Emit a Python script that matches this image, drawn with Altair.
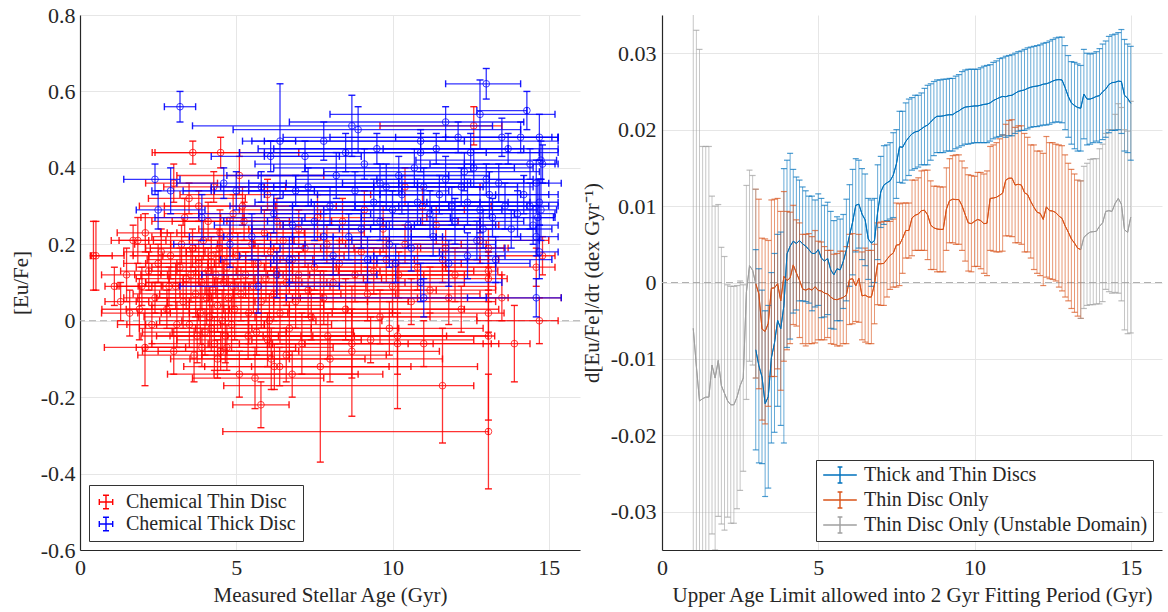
import altair as alt
import pandas as pd

FONT = "Liberation Serif"

# ---------------- Left panel: [Eu/Fe] vs measured stellar age ----------------
thin_age = [0.43, 0.51, 1.49, 1.30, 1.59, 1.90, 1.98, 2.08, 1.70, 1.85, 2.09, 2.50, 2.78, 2.40, 2.20, 2.60, 1.10, 2.30,
            3.00, 3.00, 3.06, 3.49, 3.61, 4.50, 4.28, 4.90, 4.48, 4.40, 4.50, 2.90, 3.20, 3.30, 3.40, 3.50, 3.60, 3.70,
            3.75, 3.80, 3.85, 3.90, 3.95, 4.00, 4.05, 4.10, 4.15, 4.20, 4.25, 4.30, 4.35, 4.40, 4.45, 4.55, 4.60, 4.65,
            4.70, 4.75, 4.80, 4.85, 4.90, 4.95, 2.85, 3.10, 3.25, 3.55, 3.65, 3.90, 4.10, 4.20, 4.55, 4.70, 3.35, 3.80,
            5.10, 5.10, 5.60, 5.79, 5.38, 6.06, 6.12, 6.22, 6.39, 6.79, 6.60, 5.05, 5.15, 5.25, 5.30, 5.40, 5.50, 5.55,
            5.65, 5.70, 5.80, 5.90, 5.95, 6.00, 6.10, 6.20, 6.30, 6.40, 6.50, 6.60, 6.70, 6.80, 6.90, 7.00, 7.10, 7.20,
            7.30, 7.40, 7.50, 7.60, 7.69, 7.80, 7.93, 7.90, 5.20, 6.30, 7.00, 6.00,
            8.70, 8.70, 9.30, 10.16, 10.16, 8.10, 8.30, 8.50, 8.80, 9.00, 9.20, 9.40, 9.60, 9.80, 10.00, 10.20, 10.40,
            10.40, 10.60, 10.80, 8.40, 9.10, 9.70, 8.00, 9.90, 10.96,
            11.60, 13.07, 13.07, 13.07, 13.07, 13.07, 13.90, 14.70, 14.80, 11.20, 11.80, 11.60, 11.70, 12.60, 12.20,
            11.40, 12.80, 13.07, 11.00, 12.00, 14.60, 13.50]
thin_eu = [0.17, 0.17, 0.12, 0.05, 0.02, 0.03, 0.09, -0.07, 0.21, 0.21, 0.23, 0.15, 0.03, 0.06, 0.13, 0.18, 0.09, -0.01,
           -0.08, 0.36, 0.09, 0.32, 0.44, 0.44, 0.35, 0.28, 0.23, -0.10, -0.08, 0.17, 0.14, 0.05, 0.11, -0.01, 0.19, 0.07,
           -0.04, 0.15, 0.02, 0.10, 0.21, -0.03, 0.06, 0.13, 0.01, 0.17, 0.08, -0.06, 0.12, 0.04, 0.19, 0.00, 0.10, -0.04,
           0.14, 0.06, 0.22, -0.01, 0.09, 0.03, 0.09, -0.01, 0.20, 0.12, -0.09, -0.07, 0.26, -0.02, 0.16, -0.07, 0.27, 0.30,
           0.38, -0.14, -0.15, -0.22, -0.04, 0.00, -0.10, -0.12, -0.12, -0.14, -0.09, 0.17, 0.07, 0.26, 0.12, 0.02, 0.20,
           0.09, -0.03, 0.15, 0.05, 0.23, 0.11, -0.05, 0.18, 0.07, 0.13, 0.02, 0.21, 0.10, -0.02, 0.16, 0.05, 0.12, -0.06,
           0.19, 0.08, 0.01, 0.14, 0.27, -0.12, 0.06, -0.04, 0.20, 0.30, 0.26, 0.24, 0.33,
           -0.08, -0.06, -0.05, -0.04, -0.06, 0.10, 0.15, 0.03, 0.12, 0.18, 0.07, 0.13, 0.01, 0.16, 0.09, 0.12, 0.20,
           0.35, 0.05, 0.14, 0.26, 0.29, 0.24, -0.10, -0.02, 0.30,
           -0.17, -0.29, -0.04, 0.02, 0.11, 0.13, -0.06, 0.00, 0.17, 0.08, 0.06, 0.16, 0.19, 0.51, 0.03, 0.25, 0.21, 0.19,
           -0.06, 0.12, 0.14, 0.06]
thin_age_lo = [0.1, 0.15, 0.8, 0.5, 0.9, 1.2, 0.8, 1.3, 0.7, 0.6, 0.9, 1.1, 1.3, 1.0, 0.9, 1.2, 0.3, 1.1,
               1.0, 0.9, 1.2, 1.3, 1.3, 2.1, 1.6, 2.2, 1.9, 1.5, 2.0, 1.2, 1.4, 1.5, 1.6, 1.4, 1.5, 2.0, 1.8, 1.7, 2.0,
               1.8, 1.6, 2.0, 2.2, 1.9, 2.1, 2.0, 2.3, 2.0, 2.4, 2.1, 2.2, 2.0, 2.5, 2.2, 2.4, 2.3, 2.5, 2.4, 2.6, 2.2,
               1.6, 1.6, 1.5, 1.8, 1.8, 2.1, 1.8, 2.3, 2.4, 2.6, 1.4, 1.9,
               2.0, 2.3, 2.0, 0.9, 2.5, 2.8, 2.6, 2.9, 2.4, 2.5, 2.7, 2.4, 2.6, 2.3, 2.5, 2.8, 2.6, 2.9, 2.7, 2.6, 3.0,
               2.8, 3.1, 2.9, 2.7, 3.0, 3.2, 2.9, 3.0, 3.3, 3.0, 3.1, 3.4, 3.2, 3.0, 3.5, 3.3, 3.6, 3.4, 3.1, 2.2, 3.7,
               3.2, 3.5, 2.5, 3.0, 3.2, 2.8,
               4.0, 3.6, 3.8, 4.3, 4.0, 3.8, 4.0, 3.9, 4.2, 4.1, 4.3, 4.4, 4.0, 4.5, 4.6, 4.2, 4.8, 4.5, 4.4, 4.9, 3.7,
               4.0, 4.3, 3.5, 4.4, 4.7,
               7.0, 8.5, 6.0, 5.0, 4.0, 4.8, 1.0, 2.0, 1.5, 4.5, 5.0, 5.2, 4.0, 3.0, 5.5, 5.0, 4.5, 4.3, 5.0, 5.5, 3.0, 2.7]
thin_age_hi = [0.6, 0.9, 1.1, 0.9, 1.3, 1.6, 1.2, 1.3, 0.5, 0.9, 0.7, 1.6, 2.0, 1.8, 1.5, 1.4, 1.5, 2.2,
               1.5, 1.4, 2.0, 1.8, 1.5, 2.5, 2.3, 2.8, 2.7, 2.3, 2.5, 2.0, 2.5, 2.3, 2.2, 2.4, 2.6, 2.5, 2.6, 3.0, 2.8,
               3.2, 2.9, 2.6, 3.0, 2.7, 3.3, 2.8, 3.1, 2.9, 3.0, 3.4, 2.7, 3.0, 3.3, 2.8, 3.5, 3.0, 2.9, 3.2, 3.1, 3.6,
               2.4, 2.8, 2.3, 2.8, 2.5, 3.0, 2.6, 3.2, 2.9, 3.4, 1.9, 2.4,
               2.7, 3.8, 2.2, 0.9, 3.4, 3.6, 3.0, 6.5, 3.5, 2.9, 3.2, 3.4, 3.2, 2.8, 3.5, 3.3, 3.0, 3.6, 3.1, 3.8, 3.4,
               3.2, 3.7, 3.0, 3.5, 3.9, 3.3, 3.6, 3.4, 3.8, 3.5, 3.9, 3.6, 4.0, 3.4, 3.7, 4.1, 3.8, 4.2, 3.5, 2.9, 4.0,
               3.8, 4.3, 3.0, 3.4, 3.6, 3.3,
               2.8, 2.6, 3.3, 2.9, 3.0, 4.2, 3.9, 3.8, 3.5, 3.4, 3.6, 3.2, 3.1, 3.0, 3.3, 2.9, 2.6, 2.4, 2.7, 2.5, 3.7,
               3.2, 3.1, 3.6, 3.0, 2.2,
               1.0, 0.0, 0.2, 0.5, 0.6, 0.3, 0.5, 0.6, 0.4, 2.1, 1.9, 1.8, 2.0, 0.9, 1.2, 2.0, 2.2, 0.5, 2.4, 1.5, 0.6, 1.9]
thin_eu_err = [0.09, 0.09, 0.07, 0.05, 0.06, 0.08, 0.05, 0.10, 0.04, 0.06, 0.05, 0.05, 0.05, 0.04, 0.05, 0.06, 0.05, 0.05,
               0.06, 0.05, 0.06, 0.04, 0.03, 0.04, 0.04, 0.05, 0.06, 0.05, 0.05, 0.06, 0.05, 0.07, 0.08, 0.06, 0.05,
               0.06, 0.07, 0.06, 0.08, 0.07, 0.05, 0.06, 0.07, 0.06, 0.08, 0.05, 0.06, 0.07, 0.06, 0.07, 0.05, 0.08,
               0.06, 0.07, 0.05, 0.06, 0.05, 0.07, 0.06, 0.08, 0.05, 0.06, 0.05, 0.07, 0.07, 0.05, 0.05, 0.06, 0.06,
               0.06, 0.05, 0.04,
               0.05, 0.06, 0.08, 0.06, 0.06, 0.07, 0.08, 0.06, 0.05, 0.06, 0.07, 0.06, 0.07, 0.05, 0.06, 0.08, 0.06,
               0.07, 0.06, 0.05, 0.07, 0.06, 0.06, 0.07, 0.05, 0.07, 0.06, 0.08, 0.05, 0.06, 0.07, 0.06, 0.07, 0.06,
               0.08, 0.05, 0.07, 0.06, 0.06, 0.06, 0.25, 0.07, 0.06, 0.05, 0.05, 0.06, 0.05, 0.04,
               0.17, 0.09, 0.06, 0.19, 0.08, 0.07, 0.06, 0.08, 0.07, 0.06, 0.07, 0.06, 0.07, 0.06, 0.07, 0.06, 0.05,
               0.05, 0.06, 0.06, 0.06, 0.05, 0.06, 0.06, 0.07, 0.05,
               0.15, 0.15, 0.22, 0.05, 0.06, 0.05, 0.10, 0.06, 0.05, 0.06, 0.07, 0.06, 0.05, 0.05, 0.06, 0.05, 0.06,
               0.05, 0.06, 0.07, 0.05, 0.06]

thick_age = [3.20, 2.40, 2.50, 2.90, 6.40, 6.10, 7.20, 13.00, 14.30, 12.80, 11.70, 8.70, 8.90, 12.10, 13.50, 14.10,
             14.70, 10.90, 12.50, 9.10, 14.40, 14.80, 10.20, 13.00, 4.60, 5.00, 3.90, 6.20, 8.60, 9.20, 10.90, 12.40,
             14.60, 5.70, 6.70, 7.30, 8.00, 8.20, 8.80, 9.40, 9.60, 9.80, 10.00, 10.30, 10.50, 10.70, 10.80, 11.00,
             11.20, 11.40, 11.50, 11.70, 11.90, 12.00, 12.20, 12.40, 12.60, 12.80, 12.90, 13.10, 13.20, 13.40, 13.60,
             13.80, 14.00, 14.20, 14.40, 14.50, 14.60, 14.60, 14.70, 14.70, 14.75, 14.75, 14.65, 7.50, 7.80, 8.10,
             9.00, 9.90, 10.10, 10.60, 11.30, 11.80, 12.70, 13.30, 6.80, 5.50, 4.80, 6.90, 8.50, 9.50, 10.90, 7.80,
             5.80, 6.30, 11.00, 13.70, 12.30, 9.60]
thick_eu = [0.56, 0.37, 0.29, 0.34, 0.47, 0.43, 0.43, 0.62, 0.55, 0.54, 0.52, 0.51, 0.50, 0.48, 0.48, 0.48, 0.48,
            0.44, 0.44, 0.41, 0.41, 0.41, 0.38, 0.37, 0.36, 0.34, 0.27, 0.28, 0.22, 0.16, 0.10, 0.17, 0.06, 0.09,
            0.16, 0.35, 0.30, 0.38, 0.34, 0.31, 0.26, 0.35, 0.29, 0.33, 0.25, 0.40, 0.31, 0.35, 0.28, 0.45, 0.33,
            0.37, 0.30, 0.26, 0.35, 0.31, 0.40, 0.29, 0.24, 0.33, 0.27, 0.36, 0.30, 0.24, 0.28, 0.33, 0.30, 0.25,
            0.36, 0.22, 0.31, 0.18, 0.29, 0.42, 0.27, 0.26, 0.22, 0.17, 0.24, 0.20, 0.15, 0.19, 0.22, 0.15, 0.21,
            0.16, 0.25, 0.22, 0.20, 0.34, 0.44, 0.45, 0.47, 0.47, 0.35, 0.12, 0.06, 0.45, 0.39, 0.36]
thick_age_lo = [0.5, 1.0, 0.7, 0.6, 0.9, 1.9, 1.3, 1.3, 1.6, 4.8, 5.0, 5.1, 4.0, 5.6, 5.5, 4.0, 3.0, 5.0, 4.0, 3.5,
                3.2, 2.5, 4.5, 3.5, 1.5, 1.7, 1.5, 2.4, 2.6, 3.0, 4.2, 3.0, 2.2, 2.5, 2.2, 2.8, 3.2, 3.5, 3.4, 3.8,
                3.6, 4.0, 4.2, 4.4, 4.0, 4.5, 4.6, 4.8, 5.0, 5.2, 5.0, 4.8, 5.1, 4.9, 5.3, 5.0, 5.4, 5.0, 4.6, 5.5,
                4.2, 5.0, 4.8, 4.5, 4.0, 4.6, 4.2, 3.8, 4.4, 4.0, 3.6, 3.2, 3.5, 4.0, 2.8, 2.9, 3.2, 3.0, 3.5, 3.8,
                4.0, 4.2, 4.5, 4.3, 4.0, 3.8, 2.5, 2.0, 1.8, 2.6, 3.4, 3.8, 5.0, 2.6, 1.6, 2.4, 4.4, 4.0, 4.5, 4.2]
thick_age_hi = [0.5, 0.8, 1.5, 1.3, 0.5, 2.2, 1.8, 1.1, 0.0, 2.4, 2.5, 4.5, 5.2, 3.0, 1.8, 1.2, 0.6, 3.8, 2.8, 3.5,
                0.9, 0.4, 2.9, 1.5, 2.0, 2.5, 3.3, 3.1, 3.0, 3.2, 2.6, 1.2, 0.8, 2.6, 2.6, 3.5, 3.8, 3.6, 3.0, 3.4,
                3.2, 3.1, 3.5, 3.0, 2.8, 3.2, 2.9, 3.0, 2.7, 2.8, 2.6, 2.5, 2.4, 2.2, 2.3, 2.0, 1.9, 1.8, 1.7, 1.9,
                2.0, 1.6, 1.4, 1.3, 1.2, 1.1, 0.9, 0.8, 0.8, 0.7, 0.6, 0.6, 0.5, 0.5, 0.5, 3.4, 3.6, 3.5, 3.3, 3.4,
                3.2, 3.0, 2.8, 2.6, 2.0, 1.8, 3.0, 2.6, 2.4, 3.4, 4.5, 4.2, 4.4, 4.5, 3.6, 3.2, 2.0, 1.6, 2.4, 2.9]
thick_eu_err = [0.04, 0.04, 0.05, 0.06, 0.15, 0.04, 0.04, 0.04, 0.05, 0.09, 0.04, 0.08, 0.06, 0.04, 0.05, 0.04,
                0.06, 0.05, 0.05, 0.04, 0.04, 0.05, 0.05, 0.04, 0.04, 0.05, 0.06, 0.05, 0.06, 0.06, 0.05, 0.06,
                0.05, 0.07, 0.06, 0.05, 0.05, 0.06, 0.05, 0.06, 0.05, 0.06, 0.05, 0.05, 0.06, 0.05, 0.06, 0.05,
                0.06, 0.04, 0.05, 0.06, 0.05, 0.06, 0.05, 0.06, 0.05, 0.06, 0.05, 0.06, 0.05, 0.05, 0.06, 0.05,
                0.06, 0.05, 0.06, 0.05, 0.06, 0.05, 0.06, 0.07, 0.08, 0.05, 0.10, 0.05, 0.06, 0.05, 0.05, 0.06,
                0.05, 0.06, 0.05, 0.06, 0.05, 0.06, 0.05, 0.06, 0.06, 0.04, 0.05, 0.04, 0.03, 0.05, 0.04, 0.06,
                0.05, 0.04, 0.05, 0.05]

# ---------------- Right panel: fitted gradient vs upper age limit ----------------
blue_hi = [0.0043, 0.0018, -0.0010, -0.0037, -0.0030, 0.0013, 0.0038, 0.0063, 0.0066, 0.0149,
           0.0160, 0.0169, 0.0148, 0.0138, 0.0134, 0.0125, 0.0120, 0.0113, 0.0113, 0.0108,
           0.0116, 0.0110, 0.0101, 0.0105, 0.0093, 0.0081, 0.0086, 0.0083, 0.0089, 0.0109,
           0.0128, 0.0148, 0.0162, 0.0160, 0.0149, 0.0142, 0.0110, 0.0108, 0.0110, 0.0154,
           0.0165, 0.0179, 0.0180, 0.0183, 0.0196, 0.0200, 0.0224, 0.0224, 0.0235, 0.0240,
           0.0242, 0.0245, 0.0245, 0.0248, 0.0254, 0.0258, 0.0260, 0.0263, 0.0265, 0.0265,
           0.0266, 0.0266, 0.0267, 0.0267, 0.0270, 0.0272, 0.0276, 0.0278, 0.0279, 0.0279,
           0.0279, 0.0279, 0.0281, 0.0283, 0.0284, 0.0285, 0.0288, 0.0290, 0.0293, 0.0294,
           0.0296, 0.0297, 0.0298, 0.0300, 0.0302, 0.0303, 0.0305, 0.0307, 0.0308, 0.0309,
           0.0310, 0.0311, 0.0313, 0.0314, 0.0316, 0.0318, 0.0320, 0.0321, 0.0321, 0.0310,
           0.0297, 0.0289, 0.0288, 0.0286, 0.0284, 0.0305, 0.0300, 0.0299, 0.0300, 0.0302,
           0.0306, 0.0312, 0.0316, 0.0322, 0.0324, 0.0325, 0.0327, 0.0331, 0.0318, 0.0312,
           0.0309]
blue_lo = [-0.0219, -0.0236, -0.0237, -0.0280, -0.0269, -0.0210, -0.0196, -0.0162, -0.0187, -0.0210,
           -0.0085, -0.0074, -0.0040, -0.0036, -0.0024, -0.0024, -0.0025, -0.0027, -0.0037, -0.0032,
           -0.0030, -0.0046, -0.0045, -0.0042, -0.0060, -0.0061, -0.0050, -0.0050, -0.0034, -0.0024,
           -0.0005, 0.0010, 0.0040, 0.0045, 0.0030, 0.0022, 0.0004, -0.0005, 0.0000, 0.0030,
           0.0072, 0.0076, 0.0081, 0.0083, 0.0085, 0.0110, 0.0131, 0.0130, 0.0134, 0.0140,
           0.0147, 0.0149, 0.0151, 0.0154, 0.0154, 0.0154, 0.0160, 0.0166, 0.0170, 0.0170,
           0.0170, 0.0172, 0.0172, 0.0172, 0.0175, 0.0177, 0.0179, 0.0181, 0.0181, 0.0182,
           0.0183, 0.0183, 0.0183, 0.0183, 0.0183, 0.0185, 0.0188, 0.0190, 0.0191, 0.0193,
           0.0190, 0.0192, 0.0192, 0.0195, 0.0198, 0.0199, 0.0199, 0.0201, 0.0203, 0.0204,
           0.0204, 0.0205, 0.0206, 0.0206, 0.0207, 0.0209, 0.0210, 0.0210, 0.0209, 0.0200,
           0.0190, 0.0181, 0.0175, 0.0172, 0.0172, 0.0188, 0.0180, 0.0181, 0.0183, 0.0185,
           0.0183, 0.0187, 0.0190, 0.0196, 0.0199, 0.0199, 0.0200, 0.0195, 0.0172, 0.0170,
           0.0160]
orange_hi = [0.0122, 0.0109, 0.0058, 0.0057, 0.0055, 0.0108, 0.0109, 0.0110, 0.0093, 0.0119,
             0.0093, 0.0092, 0.0101, 0.0082, 0.0078, 0.0063, 0.0063, 0.0064, 0.0060, 0.0068,
             0.0054, 0.0053, 0.0047, 0.0042, 0.0042, 0.0037, 0.0038, 0.0041, 0.0041, 0.0047,
             0.0063, 0.0064, 0.0042, 0.0063, 0.0040, 0.0045, 0.0042, 0.0042, 0.0050, 0.0078,
             0.0079, 0.0080, 0.0080, 0.0080, 0.0083, 0.0104, 0.0103, 0.0104, 0.0104, 0.0104,
             0.0134, 0.0134, 0.0137, 0.0146, 0.0147, 0.0147, 0.0133, 0.0126, 0.0126, 0.0125,
             0.0125, 0.0150, 0.0162, 0.0166, 0.0167, 0.0167, 0.0159, 0.0150, 0.0141, 0.0140,
             0.0139, 0.0144, 0.0144, 0.0142, 0.0146, 0.0178, 0.0180, 0.0183, 0.0188, 0.0193,
             0.0207, 0.0212, 0.0213, 0.0203, 0.0205, 0.0205, 0.0195, 0.0190, 0.0180, 0.0180,
             0.0172, 0.0172, 0.0169, 0.0191, 0.0183, 0.0183, 0.0181, 0.0180, 0.0179, 0.0167,
             0.0156, 0.0148, 0.0142, 0.0134, 0.0133]
orange_lo = [-0.0125, -0.0139, -0.0180, -0.0185, -0.0162, -0.0123, -0.0123, -0.0113, -0.0141, -0.0103,
             -0.0088, -0.0080, -0.0055, -0.0057, -0.0072, -0.0080, -0.0083, -0.0080, -0.0080, -0.0079,
             -0.0075, -0.0075, -0.0075, -0.0072, -0.0080, -0.0081, -0.0083, -0.0083, -0.0080, -0.0080,
             -0.0055, -0.0054, -0.0051, -0.0052, -0.0075, -0.0078, -0.0080, -0.0080, -0.0054, -0.0029,
             -0.0030, -0.0030, -0.0019, -0.0009, -0.0006, -0.0006, -0.0004, 0.0012, 0.0032, 0.0032,
             0.0035, 0.0042, 0.0042, 0.0042, 0.0042, 0.0030, 0.0017, 0.0017, 0.0014, 0.0014,
             0.0014, 0.0042, 0.0052, 0.0052, 0.0050, 0.0050, 0.0042, 0.0028, 0.0015, 0.0014,
             0.0021, 0.0021, 0.0018, 0.0012, 0.0009, 0.0042, 0.0041, 0.0040, 0.0040, 0.0041,
             0.0061, 0.0061, 0.0060, 0.0052, 0.0052, 0.0050, 0.0040, 0.0040, 0.0032, 0.0017,
             0.0012, 0.0009, -0.0004, 0.0007, 0.0005, 0.0004, 0.0002, -0.0006, -0.0011, -0.0019,
             -0.0024, -0.0034, -0.0039, -0.0044, -0.0047]
grey_early_hi = [0.0420, 0.0330, 0.0305, 0.0178, 0.0178, 0.0178, 0.0113, 0.0100, 0.0102, 0.0046,
                 0.0034, -0.0003, -0.0005, -0.0005, -0.0004, 0.0002, -0.0003, 0.0127, 0.0147, 0.0140, 0.0122]
grey_early_lo = [-0.0540, -0.0550, -0.0615, -0.0482, -0.0478, -0.0478, -0.0329, -0.0350, -0.0306, -0.0316,
                 -0.0324, -0.0307, -0.0315, -0.0315, -0.0296, -0.0272, -0.0247, -0.0153, -0.0103, -0.0108, -0.0125]
grey_late_hi = [0.0133, 0.0152, 0.0156, 0.0161, 0.0162, 0.0162, 0.0175, 0.0181, 0.0195, 0.0200, 0.0200,
                0.0220, 0.0234, 0.0229, 0.0200, 0.0198, 0.0237]
grey_late_lo = [-0.0047, -0.0034, -0.0030, -0.0029, -0.0029, -0.0028, -0.0028, -0.0025, -0.0009, -0.0012,
                -0.0014, -0.0013, -0.0014, -0.0024, -0.0062, -0.0067, -0.0066]

S_BLUE = "Thick and Thin Discs"
S_ORANGE = "Thin Disc Only"
S_GREY = "Thin Disc Only (Unstable Domain)"


def grid(start, n):
    # the fits are sampled every 0.1 Gyr
    return [round(start + 0.1 * i, 1) for i in range(n)]


def fit_frame(start, hi, lo, series, seg):
    return pd.DataFrame({"limit": grid(start, len(hi)), "hi": hi, "lo": lo, "series": series, "seg": seg})


fit_df = pd.concat([
    fit_frame(3.0, blue_hi, blue_lo, S_BLUE, "b"),
    fit_frame(3.0, orange_hi, orange_lo, S_ORANGE, "o"),
    fit_frame(1.0, grey_early_hi, grey_early_lo, S_GREY, "g1"),
    fit_frame(13.4, grey_late_hi, grey_late_lo, S_GREY, "g2"),
], ignore_index=True)

thin = pd.DataFrame({"age": thin_age, "eu": thin_eu, "lo": thin_age_lo, "hi": thin_age_hi, "err": thin_eu_err})
thin["disc"] = "Chemical Thin Disc"
thick = pd.DataFrame({"age": thick_age, "eu": thick_eu, "lo": thick_age_lo, "hi": thick_age_hi, "err": thick_eu_err})
thick["disc"] = "Chemical Thick Disc"

# ---------------- shared styling ----------------
XL = alt.Scale(domain=[0, 16], nice=False, zero=False)
YL = alt.Scale(domain=[-0.6, 0.8], nice=False, zero=False)
XR = alt.Scale(domain=[0, 16], nice=False, zero=False)
YR = alt.Scale(domain=[-0.035, 0.035], nice=False, zero=False)

ax_xl = alt.Axis(title="Measured Stellar Age (Gyr)", values=[0, 5, 10, 15], format="d",
                 labelPadding=7, titlePadding=6)
ax_yl = alt.Axis(title="[Eu/Fe]", values=[-0.6, -0.4, -0.2, 0, 0.2, 0.4, 0.6, 0.8],
                 labelExpr="datum.value == 0 ? '0' : (datum.value < 0 ? '-' + format(-datum.value, '.1f') : format(datum.value, '.1f'))",
                 labelPadding=5, titlePadding=9)
ax_xr = alt.Axis(title="Upper Age Limit allowed into 2 Gyr Fitting Period (Gyr)", values=[0, 5, 10, 15],
                 format="d", labelPadding=7, titlePadding=6)
ax_yr = alt.Axis(title="d[Eu/Fe]/dτ (dex Gyr⁻¹)", values=[-0.03, -0.02, -0.01, 0, 0.01, 0.02, 0.03],
                 labelExpr="datum.value == 0 ? '0' : (datum.value < 0 ? '-' + format(-datum.value, '.2f') : format(datum.value, '.2f'))",
                 labelPadding=6, titlePadding=8)

disc_scale = alt.Scale(domain=["Chemical Thin Disc", "Chemical Thick Disc"], range=["#FF0000", "#0000FF"])
leg_left = alt.Legend(
    title=None, orient="bottom-left", offset=9,
    symbolType="M-1,0H1M0,-1V1M-1,-0.45V0.45M1,-0.45V0.45M-0.45,-1H0.45M-0.45,1H0.45",
    symbolSize=180, symbolStrokeWidth=1.4, symbolOpacity=1,
    labelFont=FONT, labelFontSize=20, labelColor="#262626", labelLimit=500,
    strokeColor="#333333", fillColor="white", padding=7, rowPadding=2, labelOffset=10,
)

fit_scale = alt.Scale(domain=[S_BLUE, S_ORANGE, S_GREY], range=["#0072BD", "#D95319", "#A0A0A0"])
leg_right = alt.Legend(
    title=None, orient="bottom-right", offset=9,
    symbolType="M-2.1,0H2.1M0,-1V1M-0.3,-1H0.3M-0.3,1H0.3",
    symbolSize=256, symbolStrokeWidth=1.4, symbolOpacity=1, symbolOffset=9,
    labelFont=FONT, labelFontSize=20, labelColor="#262626", labelLimit=500,
    strokeColor="#333333", fillColor="white", padding=5, rowPadding=3, labelOffset=14,
)


def left_layers(df):
    base = alt.Chart(df).transform_calculate(
        x0="datum.age - datum.lo", x1="datum.age + datum.hi",
        y0="datum.eu - datum.err", y1="datum.eu + datum.err")
    col = alt.Color("disc:N", scale=disc_scale, legend=leg_left)

    def X(f):
        return alt.X(f + ":Q", scale=XL, axis=ax_xl)

    def Y(f):
        return alt.Y(f + ":Q", scale=YL, axis=ax_yl)

    hbar = base.mark_rule(strokeWidth=1.3, opacity=0.8, clip=True).encode(x=X("x0"), x2="x1:Q", y=Y("eu"), color=col)
    vbar = base.mark_rule(strokeWidth=1.3, opacity=0.8, clip=True).encode(x=X("age"), y=Y("y0"), y2="y1:Q", color=col)
    capl = base.mark_tick(orient="vertical", size=7, thickness=1.4, opacity=0.9, clip=True).encode(x=X("x0"), y=Y("eu"), color=col)
    capr = base.mark_tick(orient="vertical", size=7, thickness=1.4, opacity=0.9, clip=True).encode(x=X("x1"), y=Y("eu"), color=col)
    capb = base.mark_tick(orient="horizontal", size=7, thickness=1.4, opacity=0.9, clip=True).encode(x=X("age"), y=Y("y0"), color=col)
    capt = base.mark_tick(orient="horizontal", size=7, thickness=1.4, opacity=0.9, clip=True).encode(x=X("age"), y=Y("y1"), color=col)
    pt = base.mark_point(shape="circle", filled=False, size=45, strokeWidth=1, opacity=0.75, clip=True).encode(
        x=X("age"), y=Y("eu"), color=col)
    return [hbar, vbar, capl, capr, capb, capt, pt]


zero_l = alt.Chart(pd.DataFrame({"zero": [0.0]})).mark_rule(color="#B0B0B0", strokeDash=[7, 4], strokeWidth=1).encode(
    y=alt.Y("zero:Q", scale=YL, axis=ax_yl))

left = alt.layer(zero_l, *left_layers(thin), *left_layers(thick)).properties(width=500, height=535)

# right panel
base_r = alt.Chart(fit_df).transform_calculate(mid="(datum.hi + datum.lo) / 2")
col_r = alt.Color("series:N", scale=fit_scale, legend=leg_right)
xr = alt.X("limit:Q", scale=XR, axis=ax_xr)

zero_r = alt.Chart(pd.DataFrame({"zero": [0.0]})).mark_rule(color="#B0B0B0", strokeDash=[7, 4], strokeWidth=1).encode(
    y=alt.Y("zero:Q", scale=YR, axis=ax_yr))
line_r = base_r.mark_line(strokeWidth=1, clip=True).encode(
    x=xr, y=alt.Y("mid:Q", scale=YR, axis=ax_yr), color=col_r, detail="seg:N")
bars_r = base_r.mark_rule(strokeWidth=1, opacity=0.6, clip=True).encode(
    x=xr, y=alt.Y("lo:Q", scale=YR, axis=ax_yr), y2="hi:Q", color=col_r)
cap_hi = base_r.mark_tick(orient="horizontal", size=6, thickness=1.2, clip=True).encode(
    x=xr, y=alt.Y("hi:Q", scale=YR, axis=ax_yr), color=col_r)
cap_lo = base_r.mark_tick(orient="horizontal", size=6, thickness=1.2, clip=True).encode(
    x=xr, y=alt.Y("lo:Q", scale=YR, axis=ax_yr), color=col_r)

right = alt.layer(zero_r, line_r, bars_r, cap_hi, cap_lo, line_r).properties(width=500, height=535)

chart = alt.hconcat(left, right, spacing=82, bounds="flush").resolve_scale(color="independent").configure(
    font=FONT, padding={"left": 10, "top": 4, "right": 5, "bottom": 2}
).configure_view(stroke=None).configure_axis(
    labelFont=FONT, titleFont=FONT, labelFontSize=22, titleFontSize=21, titleFontWeight="normal",
    labelColor="#262626", titleColor="#262626", domainColor="#262626", domainWidth=1.2,
    gridColor="#E6E6E6", gridWidth=1, tickSize=0, labelFlush=False, labelOverlap=False,
)

chart.save("out.html", embed_options={"renderer": "svg", "actions": False})
